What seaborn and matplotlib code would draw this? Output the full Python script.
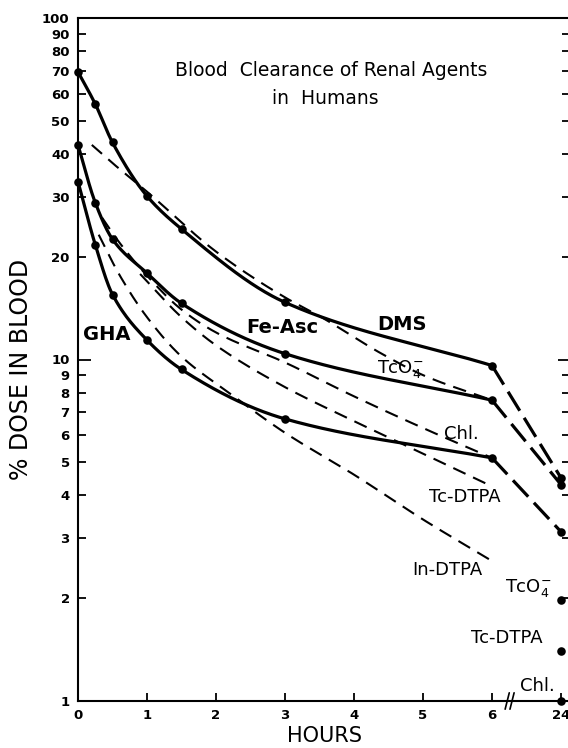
import numpy as np
import matplotlib
matplotlib.use("Agg")
import matplotlib.pyplot as plt
import matplotlib.ticker as mticker
import seaborn as sns

# ---- data (% dose in blood) ----
hours = [0, 0.25, 0.5, 1, 1.5, 3, 6]
dms = [69.5, 56, 43.2, 30.1, 24.1, 14.7, 9.6]
fe_asc = [42.5, 28.8, 22.5, 17.9, 14.6, 10.4, 7.6]
gha = [33.2, 21.7, 15.5, 11.4, 9.35, 6.7, 5.15]

# 24 h values of the solid curves
dms_24 = 4.5
fe_asc_24 = 4.3
gha_24 = 3.13

# dashed curves (no markers)
tco4_t = [0.2, 0.5, 1, 2, 3, 3.5, 4.4, 5, 6]
tco4 = [42.5, 37.6, 31, 20.7, 15.2, 13.4, 10.4, 9.0, 7.6]
chl_t = [0.35, 0.6, 1, 1.5, 2, 3, 4, 5, 6]
chl = [26, 22, 17.6, 14.0, 12.0, 9.8, 7.8, 6.3, 5.15]
tcdtpa_t = [0.9, 1.5, 2, 3, 4, 5, 6]
tcdtpa = [17.8, 13.3, 11.0, 8.3, 6.6, 5.3, 4.25]
indtpa_t = [0.3, 0.6, 1, 1.5, 2.2, 3, 4, 5, 6]
indtpa = [23.2, 17.7, 13.3, 10.2, 7.96, 6.1, 4.6, 3.4, 2.57]

# lone 24 h points of the dashed agents
values_24 = [1.97, 1.40, 1.0]

x_ticks = [0, 1, 2, 3, 4, 5, 6, 7]
x_ticklabels = ["0", "1", "2", "3", "4", "5", "6", "24"]
pos_24 = 7          # where "24" sits on the broken axis
y_major = [1, 10, 100]
y_minor = [2, 3, 4, 5, 6, 7, 8, 9, 20, 30, 40, 50, 60, 70, 80, 90]


def smooth(x, y, n=300):
    """monotone cubic through the points, done in log10 space"""
    x = np.asarray(x, float)
    y = np.log10(np.asarray(y, float))
    h = np.diff(x)
    d = np.diff(y) / h
    m = np.zeros_like(y)
    m[0], m[-1] = d[0], d[-1]
    for k in range(1, len(x) - 1):
        if d[k - 1] * d[k] > 0:
            w1 = 2 * h[k] + h[k - 1]
            w2 = h[k] + 2 * h[k - 1]
            m[k] = (w1 + w2) / (w1 / d[k - 1] + w2 / d[k])
    xn = np.linspace(x[0], x[-1], n)
    i = np.clip(np.searchsorted(x, xn) - 1, 0, len(h) - 1)
    t = (xn - x[i]) / h[i]
    yn = ((2 * t**3 - 3 * t**2 + 1) * y[i] + (t**3 - 2 * t**2 + t) * h[i] * m[i]
          + (-2 * t**3 + 3 * t**2) * y[i + 1] + (t**3 - t**2) * h[i] * m[i + 1])
    return xn, 10**yn


sns.set_style("white")
plt.rcParams['font.family'] = ['DejaVu Sans']
for key in ['text.color', 'axes.labelcolor', 'xtick.color', 'ytick.color']:
    plt.rcParams[key] = 'black'

fig = plt.figure(figsize=(5.68, 7.48), dpi=100)
ax = fig.add_axes([78 / 568, 47 / 748, 492 / 568, 683 / 748])

# solid curves with markers
for xs, ys, y24 in [(hours, dms, dms_24), (hours, fe_asc, fe_asc_24), (hours, gha, gha_24)]:
    sx, sy = smooth(xs, ys)
    sns.lineplot(x=sx, y=sy, ax=ax, color='black', lw=2.3, sort=False, estimator=None)
    sns.scatterplot(x=xs, y=ys, ax=ax, color='black', s=38, linewidth=0, zorder=5, clip_on=False)
    seg = sns.lineplot(x=[xs[-1], pos_24], y=[ys[-1], y24], ax=ax, color='black', lw=2.3,
                       sort=False, estimator=None).lines[-1]
    seg.set_dashes([7, 2.6])
    sns.scatterplot(x=[pos_24], y=[y24], ax=ax, color='black', s=38, linewidth=0, zorder=5)

# dashed curves
for xs, ys in [(tco4_t, tco4), (chl_t, chl), (tcdtpa_t, tcdtpa), (indtpa_t, indtpa)]:
    sx, sy = smooth(xs, ys)
    ln = sns.lineplot(x=sx, y=sy, ax=ax, color='black', lw=1.5, sort=False, estimator=None).lines[-1]
    ln.set_dashes([6.5, 4])

sns.scatterplot(x=[pos_24] * len(values_24), y=values_24, ax=ax, color='black', s=38,
                linewidth=0, zorder=5, clip_on=False)

ax.set_yscale('log')
ax.set_ylim(1, 100)
ax.set_xlim(0, 7.13)

ax.yaxis.set_major_locator(mticker.FixedLocator(y_major))
ax.yaxis.set_minor_locator(mticker.FixedLocator(y_minor))
ax.yaxis.set_major_formatter(mticker.FuncFormatter(lambda v, p: f"{v:g}"))
ax.yaxis.set_minor_formatter(mticker.FuncFormatter(lambda v, p: f"{v:g}"))
ax.set_xticks(x_ticks)
ax.set_xticklabels(x_ticklabels)

ax.tick_params(axis='y', which='major', direction='in', length=9, width=1.3,
               left=True, right=True, labelsize=9.5, pad=6)
ax.tick_params(axis='y', which='minor', direction='in', length=6, width=1.3,
               left=True, right=True, labelsize=9.5, pad=6)
ax.tick_params(axis='x', direction='in', length=6, width=1.3, bottom=True, labelsize=9.5, pad=6)
for lab in ax.get_xticklabels() + ax.get_yticklabels() + ax.get_yticklabels(minor=True):
    lab.set_fontweight('bold')

for s in ax.spines.values():
    s.set_linewidth(1.5)
    s.set_color('black')

# axis break marks on the hour axis
for bx in [6.22, 6.29]:
    ax.plot([bx - 0.03, bx + 0.03], [-0.012, 0.012], color='black', lw=1.2,
            transform=ax.get_xaxis_transform(), clip_on=False)

ax.set_xlabel("HOURS", fontsize=15)
ax.set_ylabel("% DOSE IN BLOOD", fontsize=17)
ax.xaxis.set_label_coords(0.502, -0.036)
ax.yaxis.set_label_coords(-0.092, 0.485)

ax.text(3.67, 70, "Blood  Clearance of Renal Agents", ha='center', va='center', fontsize=13.5)
ax.text(3.58, 58, "in  Humans", ha='center', va='center', fontsize=13.5)

bold = dict(ha='center', va='center', fontsize=14, fontweight='bold')
ax.text(0.415, 11.8, "GHA", **bold)
ax.text(2.96, 12.4, "Fe-Asc", **bold)
ax.text(4.70, 12.7, "DMS", **bold)

norm = dict(ha='center', va='center', fontsize=13)
ax.text(4.67, 9.35, r"TcO$_4^{-}$", **norm)
ax.text(5.56, 6.07, "Chl.", **norm)
ax.text(5.60, 3.97, "Tc-DTPA", **norm)
ax.text(5.36, 2.42, "In-DTPA", **norm)
ax.text(6.52, 2.14, r"TcO$_4^{-}$", **norm)
ax.text(6.21, 1.53, "Tc-DTPA", **norm)
ax.text(6.65, 1.11, "Chl.", **norm)

fig.savefig("out.png", dpi=100)
